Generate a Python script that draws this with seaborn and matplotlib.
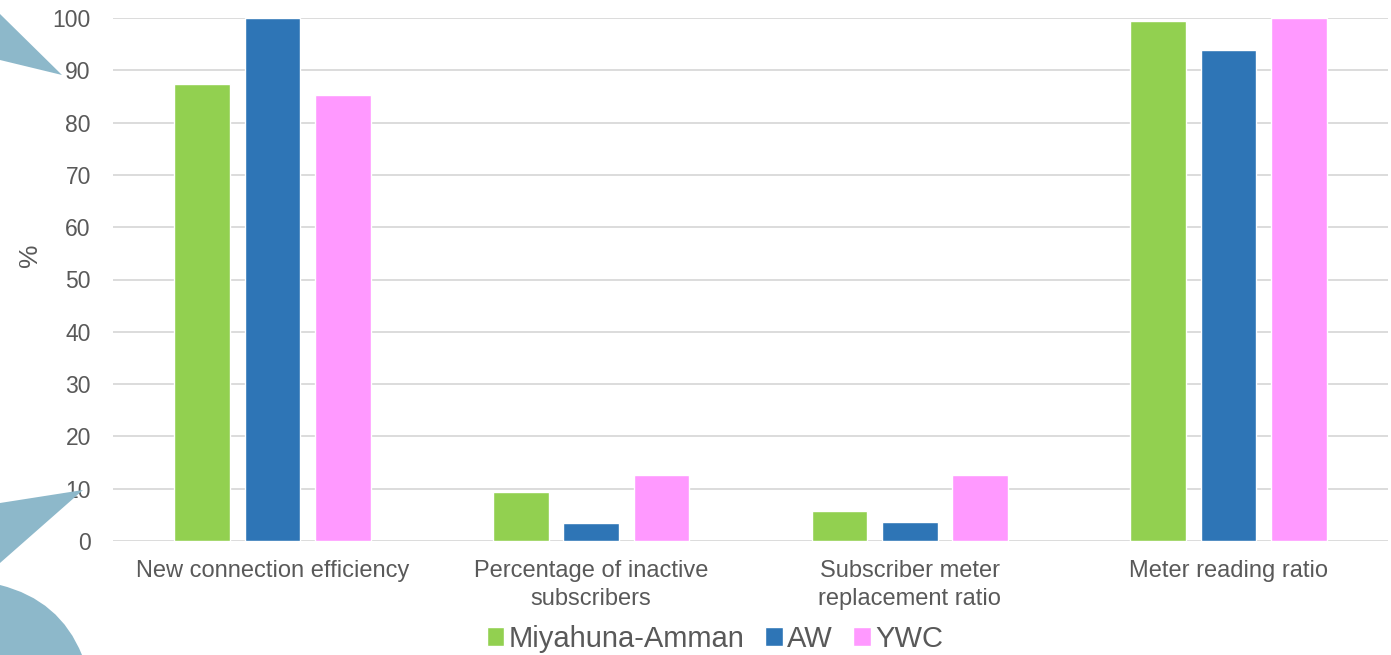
import matplotlib
matplotlib.use("Agg")
import matplotlib.pyplot as plt
from matplotlib.patches import Polygon, PathPatch
from matplotlib.path import Path
import seaborn as sns
import pandas as pd

categories = ["New connection efficiency", "Percentage of inactive\nsubscribers",
              "Subscriber meter\nreplacement ratio", "Meter reading ratio"]
series_names = ["Miyahuna-Amman", "AW", "YWC"]
miyahuna = [87.4, 9.4, 5.7, 99.4]
aw = [100.0, 3.4, 3.6, 93.8]
ywc = [85.3, 12.6, 12.6, 100.0]
colors = ["#92D050", "#2E75B6", "#FF99FF"]

rows = []
for name, vals in zip(series_names, [miyahuna, aw, ywc]):
    for c, v in zip(categories, vals):
        rows.append({"cat": c, "series": name, "val": v})
df = pd.DataFrame(rows)

sns.set_theme(style="white")
plt.rcParams["font.family"] = ["Liberation Sans", "DejaVu Sans"]
TXT = "#595959"

W, H = 1391, 655
fig = plt.figure(figsize=(W / 100, H / 100), dpi=100)
ax = fig.add_axes([113 / W, 1 - 541 / H, (1388 - 113) / W, (541 - 18) / H])
ax.patch.set_alpha(0)

# decorative background shapes
deco = "#8DB8CA"
def fx(x, y):
    return (x / W, 1 - y / H)
fig.patches.append(Polygon([fx(0, 14), fx(62, 75), fx(0, 60)], closed=True,
                           transform=fig.transFigure, facecolor=deco, edgecolor="none", zorder=0))
fig.patches.append(Polygon([fx(0, 503), fx(83, 490), fx(0, 563)], closed=True,
                           transform=fig.transFigure, facecolor=deco, edgecolor="none", zorder=0))
verts = [fx(0, 585), fx(60, 600), fx(82, 655), fx(0, 655), fx(0, 585)]
codes = [Path.MOVETO, Path.CURVE3, Path.CURVE3, Path.LINETO, Path.CLOSEPOLY]
fig.patches.append(PathPatch(Path(verts, codes), transform=fig.transFigure,
                             facecolor=deco, edgecolor="none", zorder=0))

sns.barplot(data=df, x="cat", y="val", hue="series", order=categories,
            hue_order=series_names, palette=colors, width=0.663, gap=0.21,
            saturation=1, ax=ax, legend=True, zorder=3)

ax.set_ylim(0, 100)
ax.set_xlim(-0.5, 3.5)
ax.set_yticks(range(0, 101, 10))
ax.grid(axis="y", color="#D9D9D9", linewidth=1.3, zorder=0)
ax.set_axisbelow(True)
for s in ax.spines.values():
    s.set_visible(False)
ax.tick_params(axis="y", length=0, pad=16, labelsize=16.5, labelcolor=TXT)
ax.tick_params(axis="x", length=0, pad=14, labelsize=17, labelcolor=TXT)
for lbl in ax.get_xticklabels():
    lbl.set_linespacing(1.35)
ax.set_xlabel("")
ax.set_ylabel("%", fontsize=19, color=TXT)
ax.yaxis.set_label_coords(-0.056, 0.547)

handles, labels = ax.get_legend_handles_labels()
ax.legend(handles, labels, loc="center", bbox_to_anchor=(715 / W, 1 - 639 / H),
          bbox_transform=fig.transFigure, ncol=3, frameon=False, fontsize=21,
          handlelength=0.6, handleheight=0.6, handletextpad=0.15, columnspacing=0.7,
          labelcolor=TXT)

fig.savefig("out.png", dpi=100)
